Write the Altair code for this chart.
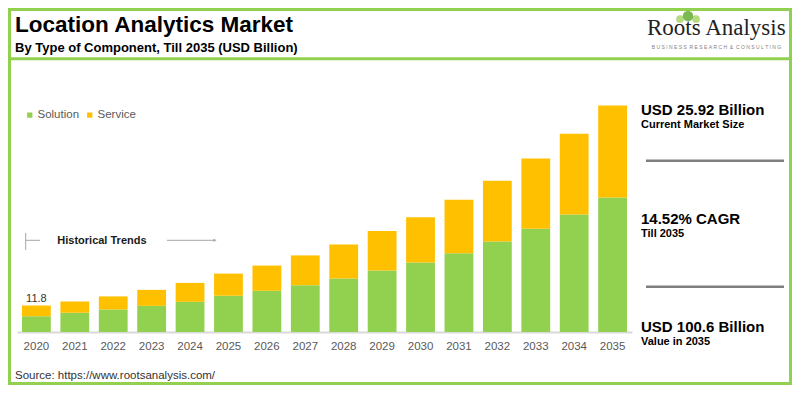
import altair as alt
import pandas as pd

# ---------------- data ----------------
years = [str(y) for y in range(2020, 2036)]
solution = [7.0, 8.5, 10.0, 11.6, 13.4, 16.1, 18.3, 20.8, 23.8, 27.3, 30.9, 35.0, 40.2, 45.8, 52.2, 59.7]
service = [4.8, 5.0, 5.8, 7.1, 8.4, 9.82, 11.2, 13.2, 15.1, 17.5, 20.1, 23.7, 26.9, 31.2, 35.8, 40.9]
components = ["Solution", "Service"]
colors = ["#92D050", "#FFC000"]

title_text = "Location Analytics Market"
subtitle_text = "By Type of Component, Till 2035 (USD Billion)"
source_text = "Source: https://www.rootsanalysis.com/"
stat_big = ["USD 25.92 Billion", "14.52% CAGR", "USD 100.6 Billion"]
stat_small = ["Current Market Size", "Till 2035", "Value in 2035"]
tagline = "BUSINESS RESEARCH & CONSULTING"

FONT = "Liberation Sans"
OX, OY = 17, 100  # plot origin in page pixels

rows = []
for i, y in enumerate(years):
    rows.append({"year": y, "component": "Solution", "value": solution[i], "order": 0})
    rows.append({"year": y, "component": "Service", "value": service[i], "order": 1})
df = pd.DataFrame(rows)
tot = pd.DataFrame({"year": years, "total": [round(a + b, 2) for a, b in zip(solution, service)]})

xscale = alt.Scale(paddingInner=0.25, paddingOuter=0.13)
yscale = alt.Scale(domain=[0, 103], nice=False)

bars = alt.Chart(df).mark_bar().encode(
    x=alt.X("year:O", scale=xscale, sort=years,
            axis=alt.Axis(title=None, labelAngle=0, ticks=False, domainColor="#D9D9D9",
                          domainWidth=2, labelColor="#595959", labelFontSize=11.5,
                          labelPadding=8, labelFont=FONT)),
    y=alt.Y("value:Q", stack="zero", scale=yscale, axis=None),
    color=alt.Color("component:N",
                    scale=alt.Scale(domain=components, range=colors),
                    legend=alt.Legend(orient="none", legendX=7, legendY=9, direction="horizontal",
                                      symbolType="square", symbolSize=28, labelFontSize=11.5,
                                      labelColor="#595959", labelFont=FONT, title=None, padding=0,
                                      columnPadding=4, labelOffset=2, symbolStrokeWidth=0)),
    order=alt.Order("order:Q"),
)

first_label = alt.Chart(tot).transform_filter(alt.datum.year == "2020").mark_text(
    baseline="alphabetic", dy=-3, fontSize=11, font=FONT, color="#333333"
).encode(
    x=alt.X("year:O", scale=xscale, sort=years),
    y=alt.Y("total:Q", scale=yscale),
    text=alt.Text("total:Q", format=".1f"),
)


def txt(s, px, py, size, bold=False, color="#000000", font=FONT, align="left"):
    return alt.Chart(alt.Data(values=[{"t": s}])).mark_text(
        align=align, baseline="alphabetic", fontSize=size,
        fontWeight="bold" if bold else "normal", color=color, font=font
    ).encode(x=alt.value(px - OX), y=alt.value(py - OY), text="t:N")


def hline(x1, x2, py, color, width):
    return alt.Chart(alt.Data(values=[{"a": 1}])).mark_rule(color=color, strokeWidth=width).encode(
        x=alt.value(x1 - OX), x2=alt.value(x2 - OX), y=alt.value(py - OY))


def vline(px, y1, y2, color, width):
    return alt.Chart(alt.Data(values=[{"a": 1}])).mark_rule(color=color, strokeWidth=width).encode(
        x=alt.value(px - OX), y=alt.value(y1 - OY), y2=alt.value(y2 - OY))


def dot(px, py, size, color, shape="circle", opacity=1.0):
    return alt.Chart(alt.Data(values=[{"a": 1}])).mark_point(
        filled=True, shape=shape, size=size, color=color, opacity=opacity
    ).encode(x=alt.value(px - OX), y=alt.value(py - OY))


NB = "\u00a0"
spaced_tagline = (NB * 2).join(NB.join(list(w)) for w in tagline.split(" "))

frame = alt.Chart(alt.Data(values=[{"a": 1}])).mark_rect(
    fillOpacity=0, stroke="#92D050", strokeWidth=3
).encode(x=alt.value(9.5 - OX), x2=alt.value(790.5 - OX), y=alt.value(9.5 - OY), y2=alt.value(383.5 - OY))

layers = [
    frame,
    hline(8, 792, 58.7, "#92D050", 3),
    bars,
    first_label,
    txt(title_text, 15, 32, 22.5, bold=True),
    txt(subtitle_text, 15, 52.3, 13, bold=True),
    # logo
    dot(680, 19, 60, "#A8D46A", opacity=0.85),
    dot(696, 19, 60, "#A8D46A", opacity=0.85),
    dot(688, 16, 110, "#6DB33F", opacity=0.9),
    txt("Roots Analysis", 647, 34.7, 23, color="#222222", font="Liberation Serif"),
    txt(spaced_tagline, 716.5, 49, 5, color="#7F7F7F", align="center"),
    # historical trends
    vline(25.7, 233, 250, "#A6A6A6", 1),
    hline(26, 40, 240.3, "#A6A6A6", 1),
    txt("Historical Trends", 57.3, 244, 11, bold=True, color="#1A1A1A"),
    hline(167, 215, 240.3, "#A6A6A6", 1),
    dot(215, 240.3, 12, "#A6A6A6", shape="triangle-right"),
    # right panel
    txt(stat_big[0], 641, 115, 15, bold=True),
    txt(stat_small[0], 641, 128.3, 11, bold=True),
    hline(646, 784, 160.7, "#7F7F7F", 2.5),
    txt(stat_big[1], 641, 224, 15, bold=True),
    txt(stat_small[1], 641, 237.3, 11, bold=True),
    hline(646, 784, 286.7, "#7F7F7F", 2.5),
    txt(stat_big[2], 641, 332.3, 15, bold=True),
    txt(stat_small[2], 641, 345, 11, bold=True),
    # source
    txt(source_text, 15, 378.5, 11.5, color="#333333"),
]

chart = alt.layer(*layers).properties(
    width=615, height=232,
    autosize=alt.AutoSizeParams(type="none"),
    padding={"left": 9, "top": 92, "right": 160, "bottom": 53},
    background="white",
).configure_view(stroke=None)

chart.save("out.html", embed_options={"renderer": "svg", "actions": False})
